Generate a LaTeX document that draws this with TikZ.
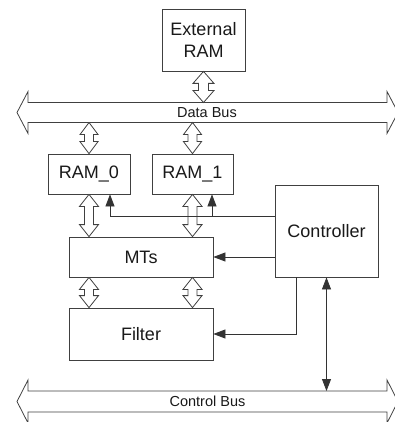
\documentclass[tikz,border=0pt]{standalone}
\usepackage{fontspec}
\setmainfont{Liberation Sans}
\usetikzlibrary{calc,arrows.meta}
\tikzset{
  every picture/.style={x=1pt,y=-1pt},
  box/.style={draw=black!75,line width=0.8pt,fill=white,inner sep=0pt,font=\fontsize{18}{22}\selectfont,text=black!90,align=center},
  hollow/.style={draw=black!75,line width=0.8pt,fill=white,line join=miter},
  busshape/.style={draw=black!75,line width=0.8pt,fill=white},
  buslabel/.style={inner sep=0pt,font=\fontsize{14.5}{17}\selectfont,text=black!90},
  ctl/.style={draw=black!80,line width=0.8pt},
  tip/.style={-{Triangle[length=12pt,width=9pt]}},
  tips/.style={{Triangle[length=12pt,width=9pt]}-{Triangle[length=12pt,width=9pt]}}
}
% #1 head half width, #2 shaft half width, #3 top point, #4 bottom point
\newcommand\hollowv[4]{%
  \draw[hollow] let \p1=(#3), \p2=(#4) in
  (\x1,\y1) -- (\x1+#1pt,\y1-12pt) -- (\x1+#2pt,\y1-12pt) -- (\x1+#2pt,\y2+12pt)
  -- (\x1+#1pt,\y2+12pt) -- (\x1,\y2) -- (\x1-#1pt,\y2+12pt) -- (\x1-#2pt,\y2+12pt)
  -- (\x1-#2pt,\y1-12pt) -- (\x1-#1pt,\y1-12pt) -- cycle;}
\newcommand\busarrow[2]{% #1 top line y, #2 bottom line y
  \draw[busshape] (17,{(#1+#2)/2}) -- (28,#1-11) -- (28,#1) -- (387,#1) -- (387,#1-11)
  -- (398,{(#1+#2)/2}) -- (387,#2+11) -- (387,#2) -- (28,#2) -- (28,#2+11) -- cycle;}
\begin{document}
\begin{tikzpicture}
\useasboundingbox (0,0) rectangle (395,422);
% buses
\busarrow{102.5}{122.5}
\busarrow{391}{412}
\node[buslabel] (databus) at (207,113) {Data Bus};
\node[buslabel] (ctrlbus) at (207.5,401.5) {Control Bus};
\coordinate (dbT) at (0,102.5);
\coordinate (dbB) at (0,122.5);
\coordinate (cbT) at (0,391);
% boxes
\node[box,minimum width=83pt,minimum height=62pt] (extram) at (203.5,40) {External\\RAM};
\node[box,minimum width=82pt,minimum height=40pt] (ram0) at (89,174) {RAM\_0};
\node[box,minimum width=81pt,minimum height=40pt] (ram1) at (192.5,174) {RAM\_1};
\node[box,minimum width=103pt,minimum height=92pt] (ctrl) at (326.5,231) {Controller};
\node[box,minimum width=144pt,minimum height=40pt] (mts) at (141,257) {MTs};
\node[box,minimum width=144pt,minimum height=52pt] (filter) at (141,334) {Filter};
% hollow data arrows
\coordinate (e1) at (extram.south |- dbT);
\hollowv{10.5}{5}{extram.south}{e1}
\coordinate (r0t) at (ram0.north |- dbB);
\hollowv{9}{4.5}{r0t}{ram0.north}
\coordinate (r1t) at (ram1.north |- dbB);
\hollowv{9}{4.5}{r1t}{ram1.north}
\coordinate (r0m) at (ram0.south |- mts.north);
\hollowv{9.5}{4.5}{ram0.south}{r0m}
\coordinate (r1m) at (ram1.south |- mts.north);
\hollowv{9.5}{4.5}{ram1.south}{r1m}
\coordinate (m0) at (ram0.south |- mts.south);
\coordinate (f0) at (ram0.south |- filter.north);
\hollowv{9.5}{4.5}{m0}{f0}
\coordinate (m1) at (ram1.south |- mts.south);
\coordinate (f1) at (ram1.south |- filter.north);
\hollowv{9.5}{4.5}{m1}{f1}
% control lines
\coordinate (cw) at ($(ctrl.west)+(0,-15)$);
\coordinate (j0) at (110,0 |- cw);
\coordinate (j1) at (212,0 |- cw);
\draw[ctl,tip] (cw) -- (j0) -- (j0 |- ram0.south);
\draw[ctl,tip] (j1) -- (j1 |- ram1.south);
\draw[ctl,tip] (ctrl.west |- mts.east) -- (mts.east);
\coordinate (cs) at (296,0 |- ctrl.south);
\draw[ctl,tip] (cs) -- (cs |- filter.east) -- (filter.east);
\draw[ctl,tips] (ctrl.south) -- (ctrl.south |- cbT);
\end{tikzpicture}
\end{document}
